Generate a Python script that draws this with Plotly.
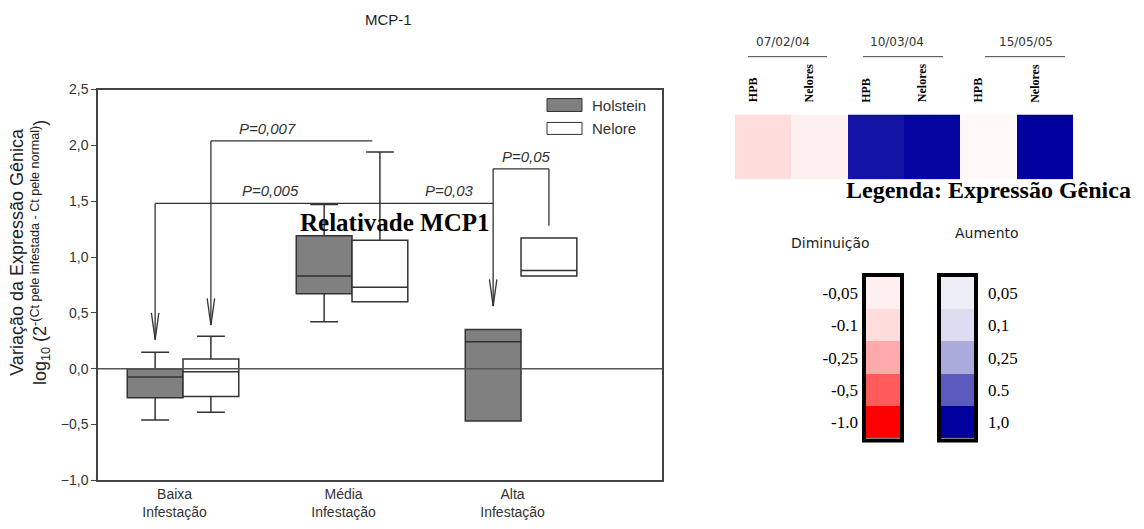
import plotly.graph_objects as go

W, H = 1144, 529
# calibration of page placement (body margin / visible area)
X_OFF = 8
Y_OFF = 14.2
Y_SPAN = 514.7


def px(x):
    return (x - X_OFF) / W


def py(y):
    return 1 - (y - Y_OFF) / Y_SPAN


# ---------------- data: box plot ----------------
categories = ["Baixa<br>Infestação", "Média<br>Infestação", "Alta<br>Infestação"]
holstein_q1 = [-0.26, 0.67, -0.47]
holstein_median = [-0.074, 0.83, 0.24]
holstein_q3 = [0.0, 1.19, 0.35]
holstein_low = [-0.46, 0.42, -0.47]
holstein_high = [0.146, 1.47, 0.35]

nelore_q1 = [-0.25, 0.60, 0.83]
nelore_median = [-0.027, 0.73, 0.88]
nelore_q3 = [0.086, 1.15, 1.17]
nelore_low = [-0.39, 0.60, 0.83]
nelore_high = [0.29, 1.94, 1.17]

# significance brackets (values in y units)
bracket_main_y = 1.48      # P=0,005 and P=0,03
bracket_007_y = 2.04       # P=0,007
bracket_05_y = 1.79        # P=0,05
bracket_05_end = 1.28
arrow_tip_baixa_h = 0.26
arrow_tip_baixa_n = 0.39
arrow_tip_alta_h = 0.56
p_texts = ["P=0,005", "P=0,007", "P=0,03", "P=0,05"]

# ---------------- data: heatmap ----------------
heat_values = [-0.1, -0.05, 0.9, 0.97, -0.025, 1.0]
heat_cols = ["HPB", "Nelores", "HPB", "Nelores", "HPB", "Nelores"]
dates = ["07/02/04", "10/03/04", "15/05/05"]

dec_values = [-0.05, -0.1, -0.25, -0.5, -1.0]
dec_labels = ["-0,05", "-0.1", "-0,25", "-0,5", "-1.0"]
inc_values = [0.05, 0.1, 0.25, 0.5, 1.0]
inc_labels = ["0,05", "0,1", "0,25", "0.5", "1,0"]

colorscale = [
    [0.0, "#ff0000"], [0.25, "#ff5b5b"], [0.375, "#ffaaaa"], [0.45, "#ffdddd"],
    [0.475, "#fff0f0"], [0.5, "#ffffff"], [0.525, "#eeeef7"], [0.55, "#dcdcf0"],
    [0.625, "#aaaadb"], [0.75, "#5b5bbd"], [1.0, "#00009f"],
]

# ---------------- figure ----------------
OFF = 0.165
BW = 0.33
idx = list(range(len(categories)))
LINE = "#333333"

fig = go.Figure()
fig.add_trace(go.Box(
    x=[i - OFF for i in idx], q1=holstein_q1, median=holstein_median, q3=holstein_q3,
    lowerfence=holstein_low, upperfence=holstein_high, width=BW, whiskerwidth=0.5,
    fillcolor="#808080", line=dict(color=LINE, width=1.5), boxpoints=False,
    name="Holstein", xaxis="x", yaxis="y",
))
fig.add_trace(go.Box(
    x=[i + OFF for i in idx], q1=nelore_q1, median=nelore_median, q3=nelore_q3,
    lowerfence=nelore_low, upperfence=nelore_high, width=BW, whiskerwidth=0.5,
    fillcolor="#ffffff", line=dict(color=LINE, width=1.5), boxpoints=False,
    name="Nelore", xaxis="x", yaxis="y",
))

# heatmap
fig.add_trace(go.Heatmap(
    z=[heat_values], x=list(range(len(heat_values))), y=[0],
    colorscale=colorscale, zmin=-1, zmax=1, showscale=False,
    xaxis="x2", yaxis="y2", hoverinfo="skip",
))
fig.add_trace(go.Heatmap(
    z=[[v] for v in dec_values], x=[0], y=list(range(len(dec_values))),
    colorscale=colorscale, zmin=-1, zmax=1, showscale=False,
    xaxis="x3", yaxis="y3", hoverinfo="skip",
))
fig.add_trace(go.Heatmap(
    z=[[v] for v in inc_values], x=[0], y=list(range(len(inc_values))),
    colorscale=colorscale, zmin=-1, zmax=1, showscale=False,
    xaxis="x4", yaxis="y4", hoverinfo="skip",
))

shapes = []
annotations = []

# zero line
shapes.append(dict(type="line", xref="x domain", yref="y", x0=0, x1=1, y0=0, y1=0,
                   line=dict(color="#555555", width=1.5)))


def seg(x0, y0, x1, y1):
    shapes.append(dict(type="line", xref="x", yref="y", x0=x0, y0=y0, x1=x1, y1=y1,
                       line=dict(color=LINE, width=1.3)))


def arrow(x, top, tip):
    seg(x, top, x, tip)
    seg(x, tip, x - 0.022, tip + 0.24)
    seg(x, tip, x + 0.022, tip + 0.24)


xbh, xbn = idx[0] - OFF, idx[0] + OFF
xmh, xmn = idx[1] - OFF, idx[1] + OFF
xah, xan = idx[2] - OFF, idx[2] + OFF

# P=0,005 / P=0,03 line
seg(xbh, bracket_main_y, xah, bracket_main_y)
arrow(xbh, bracket_main_y, arrow_tip_baixa_h)
# P=0,007
seg(xbn, bracket_007_y, xmn - 0.045, bracket_007_y)
arrow(xbn, bracket_007_y, arrow_tip_baixa_n)
# P=0,05
seg(xah, bracket_05_y, xan, bracket_05_y)
seg(xan, bracket_05_y, xan, bracket_05_end)
arrow(xah, bracket_05_y, arrow_tip_alta_h)

pfont = dict(family="Liberation Sans", size=15, color="#333333", style="italic")
for text, x, y in [(p_texts[0], 0.515, bracket_main_y), (p_texts[1], 0.497, bracket_007_y),
                   (p_texts[2], 1.574, bracket_main_y), (p_texts[3], 2.035, bracket_05_y)]:
    annotations.append(dict(text=text, x=x, y=y, xref="x", yref="y", showarrow=False,
                            xanchor="center", yanchor="bottom", yshift=2, font=pfont))


def ptext(text, x, y, font, **kw):
    d = dict(text=text, x=px(x), y=py(y), xref="paper", yref="paper", showarrow=False,
             xanchor="center", yanchor="middle", font=font)
    d.update(kw)
    annotations.append(d)


# legend (Holstein / Nelore)
shapes.append(dict(type="rect", xref="paper", yref="paper", x0=px(547), x1=px(582),
                   y0=py(110), y1=py(97), fillcolor="#808080", line=dict(color=LINE, width=1)))
shapes.append(dict(type="rect", xref="paper", yref="paper", x0=px(547), x1=px(582),
                   y0=py(133), y1=py(121), fillcolor="#ffffff", line=dict(color=LINE, width=1)))
lfont = dict(family="Liberation Sans", size=15, color="#333333")
ptext("Holstein", 590, 104, lfont, xanchor="left")
ptext("Nelore", 590, 127, lfont, xanchor="left")

# title and overlays
ptext("MCP-1", 388, 18, dict(family="Liberation Sans", size=15, color="#222222"))
ptext("<b>Relativade MCP1</b>", 395, 221,
      dict(family="Liberation Serif", size=25, color="#000000"))
ptext("Variação da Expressão Gênica<br>log<sub>10</sub> (2<sup>-(Ct pele infestada - Ct pele normal)</sup>)",
      30, 252, dict(family="Liberation Sans", size=18, color="#222222"), textangle=-90)

# heatmap labels
for i, lab in enumerate(heat_cols):
    annotations.append(dict(text=f"<b>{lab}</b>", x=i, y=py(103), xref="x2", yref="paper",
                            showarrow=False, textangle=-90, xanchor="center", yanchor="bottom",
                            xshift=-10,
                            font=dict(family="Liberation Serif", size=12, color="#000000")))
date_pos = [(783, 748, 827), (897, 863, 943), (1026, 985, 1065)]
for d, (cx, a, b) in zip(dates, date_pos):
    ptext(d, cx, 40, dict(family="DejaVu Sans", size=12, color="#333333"))
    shapes.append(dict(type="line", xref="paper", yref="paper", x0=px(a), x1=px(b),
                       y0=py(55), y1=py(55), line=dict(color="#444444", width=1)))

ptext("<b>Legenda: Expressão Gênica</b>", 988, 189,
      dict(family="Liberation Serif", size=24, color="#000000"))
ptext("Diminuição", 830, 242, dict(family="DejaVu Sans", size=14, color="#222222"))
ptext("Aumento", 987, 232, dict(family="DejaVu Sans", size=14, color="#222222"))

for a, b in [(864, 902), (939, 976)]:
    shapes.append(dict(type="rect", xref="paper", yref="paper", x0=px(a), x1=px(b),
                       y0=py(440), y1=py(274), line=dict(color="#000000", width=4)))

tickfont = dict(family="Liberation Sans", size=14, color="#333333")
scalefont = dict(family="Liberation Serif", size=17, color="#000000")

fig.update_layout(
    width=W, height=H, autosize=False,
    margin=dict(l=0, r=0, t=0, b=0),
    paper_bgcolor="white", plot_bgcolor="white",
    showlegend=False, separators=",.",
    boxmode="overlay",
    shapes=shapes, annotations=annotations,
    xaxis=dict(domain=[px(98), px(662)], range=[-0.503, 2.834], anchor="y",
               showline=True, mirror=True, linecolor="#444444", linewidth=1.5,
               showgrid=False, zeroline=False, ticks="",
               tickvals=[i - 0.05 for i in idx], ticktext=categories, tickfont=tickfont),
    yaxis=dict(domain=[py(480), py(88)], range=[-1, 2.5], anchor="x",
               showline=True, mirror=True, linecolor="#444444", linewidth=1.5,
               showgrid=False, zeroline=False, ticks="outside", ticklen=5,
               tickcolor="#444444", dtick=0.5, tick0=0, tickformat=".1f", tickfont=tickfont),
    xaxis2=dict(domain=[px(735), px(1073)], range=[-0.5, 5.5], anchor="y2", visible=False),
    yaxis2=dict(domain=[py(178), py(113)], range=[-0.5, 0.5], anchor="x2", visible=False),
    xaxis3=dict(domain=[px(866), px(900)], range=[-0.5, 0.5], anchor="y3", visible=False),
    yaxis3=dict(domain=[py(438), py(276)], range=[len(dec_values) - 0.5, -0.5], anchor="x3",
                showgrid=False, zeroline=False, showline=False, ticks="",
                tickvals=list(range(len(dec_labels))), ticktext=dec_labels,
                tickfont=scalefont, ticklabelstandoff=7),
    xaxis4=dict(domain=[px(941), px(974)], range=[-0.5, 0.5], anchor="y4", visible=False),
    yaxis4=dict(domain=[py(438), py(276)], range=[len(inc_values) - 0.5, -0.5], anchor="x4",
                side="right", showgrid=False, zeroline=False, showline=False, ticks="",
                tickvals=list(range(len(inc_labels))), ticktext=inc_labels,
                tickfont=scalefont, ticklabelstandoff=13),
)

fig.write_html("out.html")
